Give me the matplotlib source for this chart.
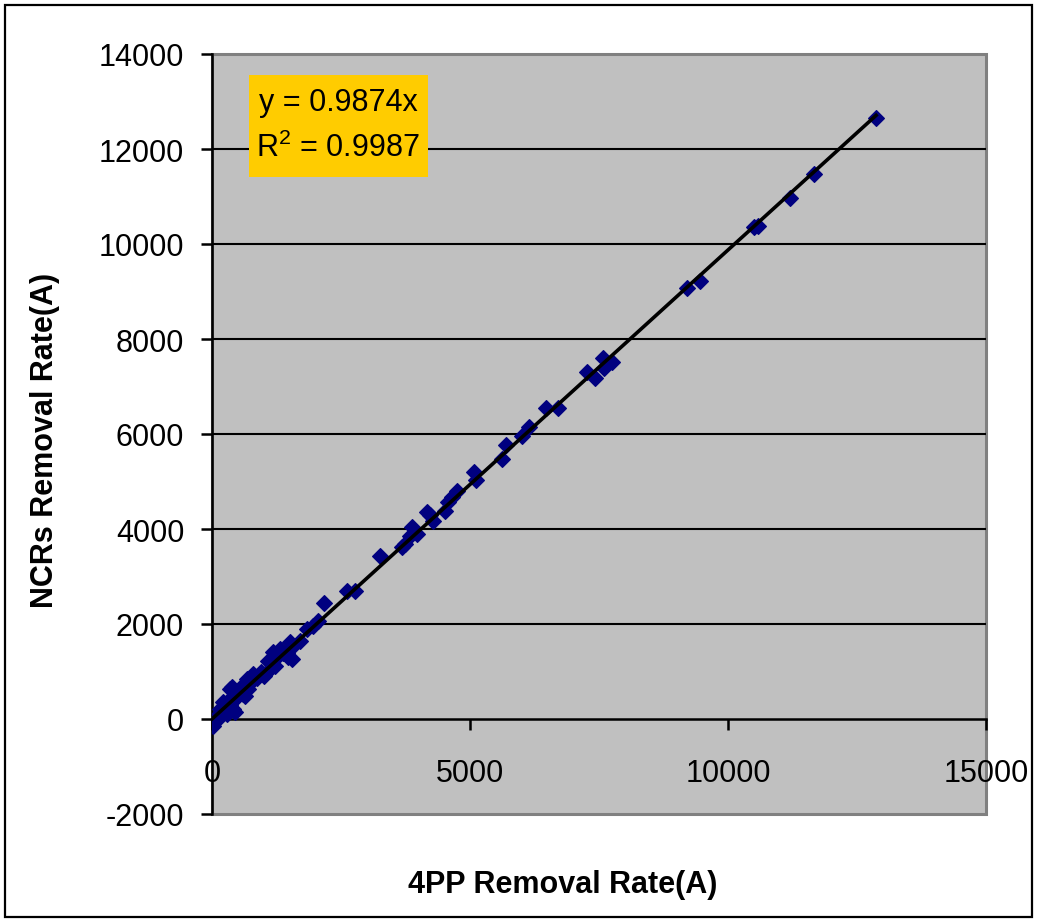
import matplotlib

matplotlib.use("Agg")

import matplotlib.pyplot as plt
import numpy as np
from matplotlib.patches import Rectangle

# 4PP vs NCRs removal rate, in Angstrom
rate_4pp = [
    12870, 11670, 11200, 10500, 10580, 9460, 9200, 7750, 7580, 7600,
    7420, 7270, 6700, 6470, 6140, 6010, 5700, 5620, 5080, 5120,
    4750, 4650, 4570, 4520, 4170, 4280, 4230, 3880, 3970, 3840,
    3740, 3680, 3260, 2620, 2770, 2170, 2050, 1960, 1840, 1700,
    1510, 1470, 1320, 1180, 1220, 1090, 800, 680, 580, 390,
    480, 410, 210, 160, 20, 120, 250, 300, 350, 450,
    520, 600, 650, 700, 750, 880, 950, 1000, 1130, 1250,
    1380, 1450, 1550, 1560, 640, 450, 300, 80, 350,
]
rate_ncrs = [
    12650, 11470, 10970, 10360, 10380, 9220, 9070, 7520, 7600, 7390,
    7180, 7300, 6550, 6550, 6150, 5960, 5770, 5480, 5200, 5030,
    4800, 4670, 4570, 4380, 4360, 4170, 4300, 4040, 3900, 3850,
    3680, 3620, 3430, 2700, 2700, 2440, 2060, 1960, 1900, 1640,
    1620, 1300, 1470, 1410, 1120, 1220, 950, 840, 700, 670,
    480, 210, 360, 210, -150, 0, 280, 350, 300, 420,
    560, 520, 700, 640, 780, 860, 1000, 900, 1050, 1300,
    1380, 1400, 1520, 1270, 480, 150, 100, 50, 630,
]
slope = 0.9874
r_squared = 0.9987

x_ticks = [0, 5000, 10000, 15000]
y_ticks = [-2000, 0, 2000, 4000, 6000, 8000, 10000, 12000, 14000]

plt.rcParams["font.family"] = ["Liberation Sans", "DejaVu Sans"]
plt.rcParams["axes.unicode_minus"] = False
plt.rcParams["mathtext.fontset"] = "custom"
plt.rcParams["mathtext.rm"] = "Liberation Sans"

fig = plt.figure(figsize=(10.42, 9.2), dpi=100)
fig.patch.set_facecolor("white")
fig.patches.append(Rectangle((5 / 1042, 2 / 920), 1027 / 1042, 912 / 920,
                             transform=fig.transFigure, fill=False,
                             edgecolor="black", linewidth=1.6))

ax = fig.add_axes([212 / 1042, 105 / 920, 774 / 1042, 760 / 920])
ax.set_facecolor("#C0C0C0")
ax.set_xlim(0, 15000)
ax.set_ylim(-2000, 14000)

# gray frame of the plot area, black value axis on the left, x axis through zero
ax.add_patch(Rectangle((0, 0), 1, 1, transform=ax.transAxes, fill=False,
                       edgecolor="#808080", linewidth=2.2, clip_on=False, zorder=0.5))
for side in ("top", "right"):
    ax.spines[side].set_visible(False)
ax.spines["left"].set_color("black")
ax.spines["left"].set_linewidth(1.8)
ax.spines["bottom"].set_position(("data", 0))
ax.spines["bottom"].set_color("black")
ax.spines["bottom"].set_linewidth(1.8)

for yv in y_ticks:
    if 0 < yv < 14000:
        ax.axhline(yv, color="black", linewidth=1.5, zorder=1)

ax.set_xticks(x_ticks)
ax.set_yticks(y_ticks)
ax.tick_params(axis="both", direction="out", length=8, width=1.8,
               labelsize=22, color="black")
ax.tick_params(axis="x", pad=20)
ax.tick_params(axis="y", pad=12)

ax.plot(rate_4pp, rate_ncrs, linestyle="none", marker="D", markersize=8.5,
        color="#000080", markeredgecolor="#000080", markeredgewidth=0.8, zorder=3)

fit_x = np.array([0, max(rate_4pp)])
ax.plot(fit_x, slope * fit_x, color="black", linewidth=2.6, zorder=4)

# trendline equation box
ax.add_patch(Rectangle((37 / 774, 637 / 760), 179 / 774, 102 / 760,
                       transform=ax.transAxes, facecolor="#FFCC00",
                       edgecolor="none", zorder=5))
ax.text(126 / 774, 712 / 760, f"y = {slope}x", transform=ax.transAxes,
        ha="center", va="center", fontsize=22, zorder=6)
ax.text(126 / 774, 667 / 760, f"R$^{{2}}$ = {r_squared}", transform=ax.transAxes,
        ha="center", va="center", fontsize=22, zorder=6)

fig.text(563 / 1042, 1 - 885 / 920, "4PP Removal Rate(A)", ha="center",
         va="center", fontsize=22, fontweight="bold")
fig.text(45 / 1042, 1 - 440 / 920, "NCRs Removal Rate(A)", ha="center",
         va="center", rotation=90, fontsize=22, fontweight="bold")

fig.savefig("out.png", dpi=100)
